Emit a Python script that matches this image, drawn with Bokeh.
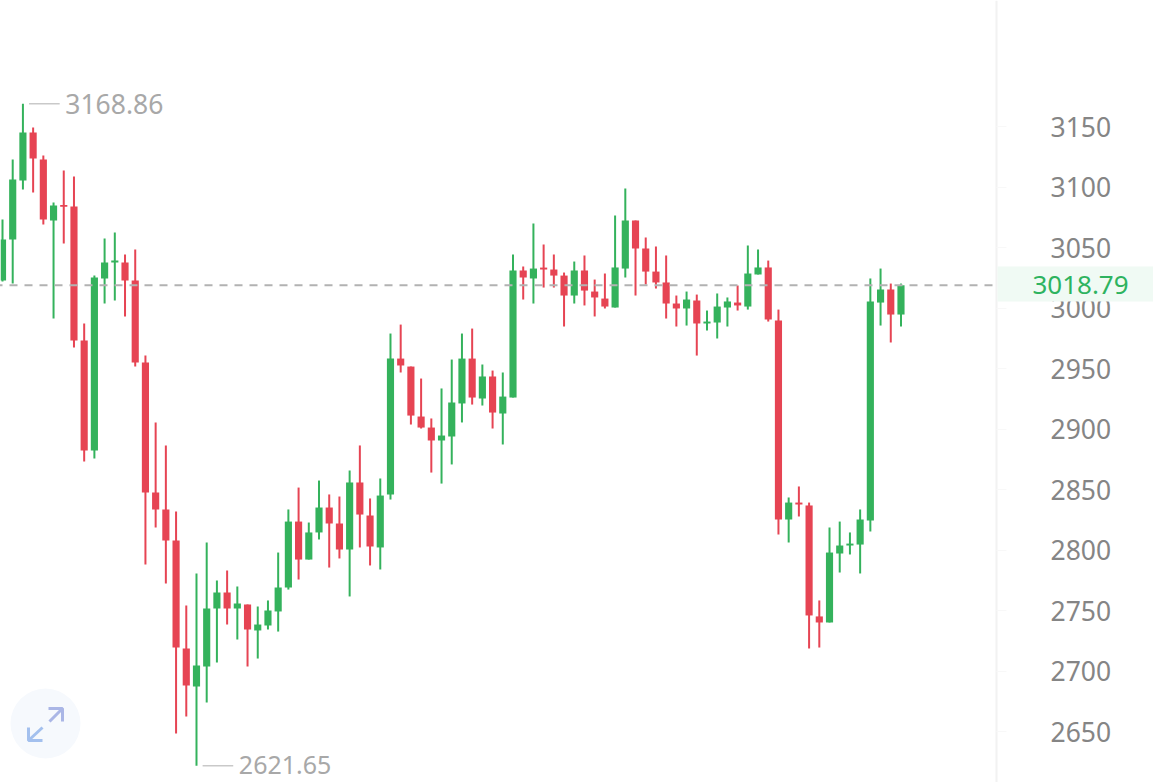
from bokeh.plotting import figure
from bokeh.models import FixedTicker, LinearAxis, Range1d
from bokeh.core.properties import value
from bokeh.embed import file_html
from bokeh.resources import INLINE

opens = [3022.7,3056.6,3105.3,3145.0,3122.7,3072.3,3085.2,3083.9,2973.1,2882.2,
         3024.4,3037.6,3037.6,3022.7,2954.9,2847.5,2833.5,2807.8,2718.6,2687.2,
         2703.7,2751.6,2764.9,2751.6,2755.0,2733.5,2737.6,2749.2,2769.0,2823.5,
         2792.1,2814.5,2835.1,2821.9,2800.4,2855.8,2828.5,2802.1,2845.9,2958.2,
         2951.6,2910.3,2901.2,2890.5,2893.8,2921.1,2958.2,2925.2,2943.4,2912.8,
         2926.0,3031.0,3024.4,3033.4,3031.8,3026.8,3010.3,3031.0,3013.6,3007.8,
         3000.4,3032.6,3072.3,3049.2,3030.1,3021.1,3003.7,2999.6,3006.2,2987.2,
         2988.0,3000.4,3004.5,3001.2,3027.7,3033.5,2989.7,2825.2,2839.2,2836.8,
         2745.1,2740.1,2797.1,2803.7,2804.5,2824.4,3004.5,3015.3,2994.6]
closes = [3056.6,3106.2,3145.0,3123.5,3073.1,3084.7,3083.6,2973.1,2882.2,3025.2,
          3037.6,3039.2,3022.7,2954.9,2847.5,2833.5,2807.8,2719.4,2688.0,2704.5,
          2751.6,2764.9,2751.6,2755.8,2734.3,2738.4,2750.0,2769.0,2823.5,2792.1,
          2814.5,2835.1,2821.9,2800.4,2855.8,2829.3,2802.9,2845.0,2958.2,2952.5,
          2911.1,2901.2,2890.5,2894.6,2921.9,2958.2,2926.0,2943.4,2913.6,2926.8,
          3031.0,3025.2,3032.6,3031.8,3026.8,3010.3,3031.0,3014.4,3008.7,3001.2,
          3033.5,3072.3,3049.2,3030.1,3021.1,3003.7,2999.6,3007.0,2987.2,2988.8,
          3001.2,3005.4,3002.1,3028.5,3033.5,2990.5,2825.2,2839.2,2837.6,2745.9,
          2740.1,2797.9,2803.7,2805.3,2825.2,3005.4,3015.3,2994.6,3018.79]
highs = [3073.1,3122.7,3168.86,3149.1,3126.0,3087.2,3113.6,3108.7,2987.2,3026.8,
         3057.4,3062.4,3044.2,3048.3,2960.7,2905.4,2886.4,2831.8,2754.1,2780.6,
         2806.2,2774.8,2783.1,2769.8,2755.0,2753.3,2758.3,2797.9,2833.5,2851.6,
         2822.7,2857.4,2845.9,2844.2,2865.7,2886.4,2842.6,2859.1,2978.9,2986.3,
         2951.6,2941.7,2908.7,2933.5,2957.4,2978.9,2983.0,2953.3,2948.3,2946.7,
         3044.2,3034.3,3069.8,3052.5,3044.2,3029.3,3038.4,3043.4,3023.5,3028.5,
         3076.4,3098.7,3072.3,3058.2,3050.8,3043.4,3010.3,3013.6,3011.1,2997.9,
         3012.0,3008.7,3018.6,3051.6,3048.3,3039.2,2998.7,2843.4,2852.5,2839.2,
         2758.3,2818.6,2823.5,2814.5,2833.5,3024.4,3032.6,3020.2,3020.2]
lows = [3021.9,3020.2,3097.9,3095.4,3069.0,2991.3,3053.3,2967.3,2873.1,2875.6,
        3003.7,3006.2,2993.0,2951.6,2788.0,2818.6,2772.3,2648.3,2662.4,2621.65,
        2674.0,2707.0,2738.4,2726.0,2703.7,2710.3,2734.3,2732.6,2767.3,2775.6,
        2792.1,2808.7,2785.5,2793.0,2761.6,2802.1,2787.2,2783.9,2841.7,2946.7,
        2903.7,2900.4,2864.0,2854.9,2870.7,2905.4,2920.2,2919.4,2900.4,2887.2,
        2926.0,3007.0,3003.7,3016.9,3016.9,2984.7,3003.7,3002.1,2993.0,2999.6,
        3000.4,3025.2,3010.3,3019.4,3016.1,2991.3,2984.7,2985.5,2960.7,2981.4,
        2974.8,2984.7,2997.9,2998.7,3027.7,2988.8,2812.8,2806.2,2827.7,2718.6,
        2719.4,2740.1,2781.4,2796.3,2780.6,2815.3,2985.5,2971.5,2984.7]
y_ticks = [2650,2700,2750,2800,2850,2900,2950,3000,3050,3100,3150]
last_price = 3018.79
high_label = "3168.86"
low_label = "2621.65"

GREEN, RED = "#34b25c", "#e64453"
W, H, RIGHT = 1153, 782, 996
STEP, X0 = 10.21, 2.0
PX_PER_UNIT = 1.21
V_TOP = 3150 + 126 / PX_PER_UNIT
FONT = "Noto Sans"
FONT_SIZE = "26.5px"

def X(px):
    return (px - X0) / STEP

def Y(py):
    return V_TOP - py / PX_PER_UNIT

p = figure(width=W, height=H, output_backend="svg", toolbar_location=None,
           x_axis_location=None, y_axis_location=None,
           x_range=Range1d(X(0), X(W)), y_range=Range1d(Y(H), Y(0)),
           min_border_left=0, min_border_top=0, min_border_bottom=0,
           min_border_right=0, background_fill_color="white",
           outline_line_color=None)
p.grid.visible = False

idx = list(range(len(opens)))
colors = [GREEN if c >= o else RED for o, c in zip(opens, closes)]
p.segment(idx, lows, idx, highs, line_color=colors, line_width=2)
p.vbar(x=idx, bottom=opens, top=closes, width=0.7, fill_color=colors,
       line_color=None)

ax = LinearAxis(fixed_location=X(RIGHT))
ax.ticker = FixedTicker(ticks=y_ticks)
ax.axis_line_color = "#f2f2f2"
ax.axis_line_width = 2
ax.major_tick_out = 10
ax.major_tick_in = 0
ax.major_tick_line_color = "#f8f8f8"
ax.minor_tick_line_color = None
ax.major_label_standoff = 44
ax.major_label_text_font = FONT
ax.major_label_text_font_size = FONT_SIZE
ax.major_label_text_color = "#858585"
p.add_layout(ax, "right")

# extreme markers
ihi = highs.index(max(highs))
ilo = lows.index(min(lows))
for i, v, txt, size, dy in [(ihi, max(highs), high_label, FONT_SIZE, 0),
                            (ilo, min(lows), low_label, "25px", -1)]:
    p.segment([i + 0.6], [v], [i + 3.6], [v], line_color="#c9c9c9", line_width=1.5)
    p.text([i + 4.15], [v], text=[txt], text_font=value(FONT), y_offset=dy,
           text_font_size=size, text_color="#a8a8a8", text_baseline="middle")

# expand button
p.scatter([X(45)], [Y(723)], size=70, marker="circle", fill_color="#f6f9fd",
          line_color=None)
p.multi_line([[X(49), X(62)], [X(48), X(62), X(62)]],
             [[Y(721), Y(708)], [Y(708), Y(708), Y(721)]],
             line_color="#aab6e6", line_width=3)
p.multi_line([[X(42), X(28)], [X(28), X(28), X(42)]],
             [[Y(727), Y(740)], [Y(727), Y(740), Y(740)]],
             line_color="#a3c0ee", line_width=3)

# current price
p.segment([X(-6)], [last_price], [X(RIGHT - 1)], [last_price], line_color="#b2b2b2",
          line_width=2, line_dash="8 7", level="overlay")
p.quad(left=[X(RIGHT + 1)], right=[X(W)], top=[Y(266)], bottom=[Y(301)],
       fill_color="#f0faf4", line_color=None, level="overlay")
p.text([X(1080)], [last_price], text=[f"{last_price:.2f}"], text_font=value(FONT),
       text_font_size="26px", text_color="#2eb35f", text_align="center",
       text_baseline="middle", level="overlay")

open("out.html", "w").write(file_html(p, INLINE))
